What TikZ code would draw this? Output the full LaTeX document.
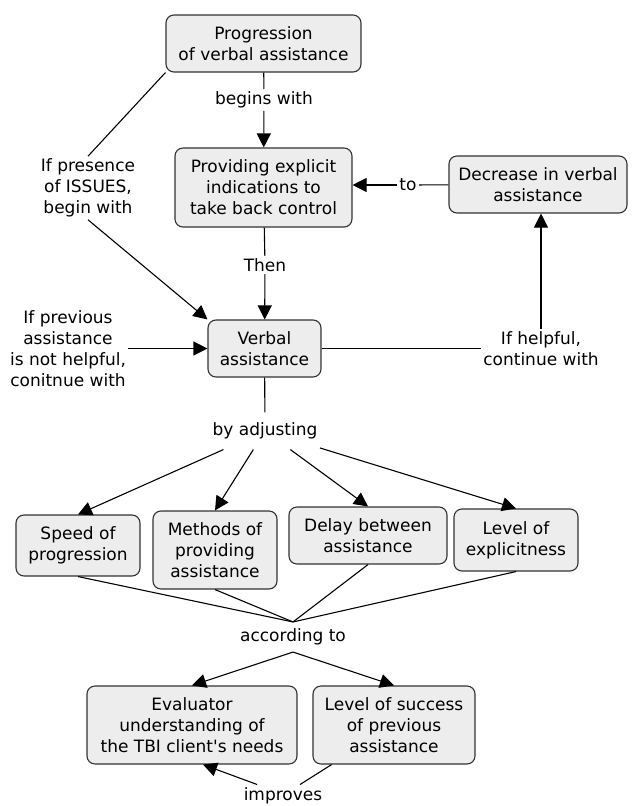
\documentclass[tikz,border=0pt]{standalone}
\usepackage{fontspec}
\setmainfont{DejaVu Sans}[Ligatures = TeXOff]
\usetikzlibrary{arrows.meta}

\begin{document}
\begin{tikzpicture} [x = 1pt, y = -1pt, line width = 1.1pt, >={Triangle[width = 14pt, length = 14pt]},
concept/.style = {draw = black!80, fill = black!7, rounded corners = 8pt, align = center, inner sep = 0pt, font = \fontsize{17}{21}\selectfont},
link/.style = {align = center, inner sep = 2pt, font = \fontsize{17}{21}\selectfont}]
\useasboundingbox (0,0) rectangle (632,806);
\node[concept, minimum width = 195pt, minimum height = 57pt](prog) at (263.5,43.5){Progression\\of verbal assistance};
\node[concept, minimum width = 177pt, minimum height = 79pt](provide) at (263.5,187.5){Providing explicit\\indications to\\take back control};
\node[concept, minimum width = 178pt, minimum height = 57pt](decrease) at (538,184.5){Decrease in verbal\\assistance};
\node[concept, minimum width = 113pt, minimum height = 57pt](verbal) at (264.5,348.5){Verbal\\assistance};
\node[concept, minimum width = 124pt, minimum height = 61pt](speed) at (78,545.5){Speed of\\progression};
\node[concept, minimum width = 124pt, minimum height = 78pt](methods) at (215,550){Methods of\\providing\\assistance};
\node[concept, minimum width = 158pt, minimum height = 57pt](delay) at (368,535.5){Delay between\\assistance};
\node[concept, minimum width = 124pt, minimum height = 62pt](level) at (516,540){Level of\\explicitness};
\node[concept, minimum width = 210pt, minimum height = 78pt](evaluator) at (192,725){Evaluator\\understanding of\\the TBI client's needs};
\node[concept, minimum width = 162pt, minimum height = 78pt](success) at (394,725){Level of success\\of previous\\assistance};
\node[link](lbegins) at (264,100){begins with};
\node[link](lissues) at (88,188){If presence\\of ISSUES,\\begin with};
\node[link](lto) at (408,185){to};
\node[link](lthen) at (265,265){Then};
\node[link](lprev) at (68,348.5){If previous\\assistance\\is not helpful,\\conitnue with};
\node[link](lhelpful) at (541,348.5){If helpful,\\continue with};
\node[link, minimum height = 36pt](ladjust) at (265,431){by adjusting};
\node[link, minimum height = 29pt](laccord) at (293,637){according to};
\node[link, anchor = base](limproves) at (283,800){improves};
\draw (prog) -- (lbegins);
\draw [->] (lbegins) -- (provide);
\draw (prog.south west) -- (lissues.north);
\draw [->] (lissues.south) -- (verbal.north west);
\draw (decrease) -- (lto);
\draw [->] (lto) -- (lto -| provide.east);
\draw (provide) -- (lthen);
\draw [->] (lthen) -- (verbal);
\draw [->] (lprev) -- (verbal);
\draw (verbal) -- (lhelpful);
\draw [->] (lhelpful.north) -- (lhelpful.north |- decrease.south);
\draw (verbal) -- (ladjust);
\draw [->] (ladjust) -- (speed.north);
\draw [->] (ladjust) -- (methods.north);
\draw [->] (ladjust) -- (delay.north);
\draw [->] (ladjust) -- (level.north);
\draw (speed.south) -- (laccord.north);
\draw (methods.south) -- (laccord.north);
\draw (delay.south) -- (laccord.north);
\draw (level.south) -- (laccord.north);
\draw [->] (laccord.south) -- (evaluator.north);
\draw [->] (laccord.south) -- (success.north);
\draw (success) -- (limproves);
\draw [->] ([xshift = 16pt]limproves.north west) -- ([xshift = 11pt]evaluator.south);
\end{tikzpicture}
\end{document}
